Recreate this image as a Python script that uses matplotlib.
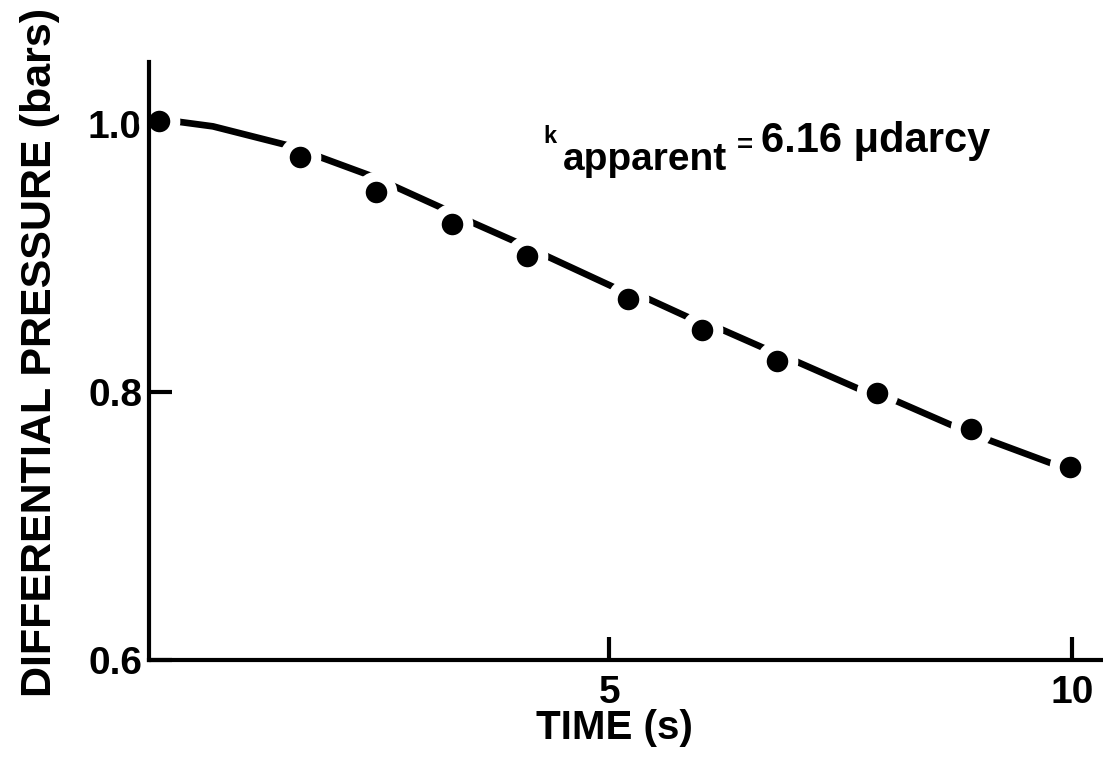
import matplotlib
matplotlib.use("Agg")
import matplotlib.pyplot as plt

# Measured differential pressure decay
time_s = [0.14, 1.66, 2.48, 3.30, 4.11, 5.20, 6.00, 6.81, 7.89, 8.90, 9.97]
pressure_bar = [1.002, 0.975, 0.949, 0.925, 0.901, 0.869, 0.846, 0.823, 0.799, 0.772, 0.744]

# Fitted model curve (k_apparent = 6.16 microdarcy)
fit_t = [0.14, 0.34, 0.72, 1.52, 1.88, 2.47, 2.64, 3.23, 3.53, 4.02, 4.30,
         5.05, 5.43, 5.84, 6.23, 6.69, 7.04, 7.70, 8.07, 8.70, 9.06, 9.80, 9.97]
fit_p = [1.002, 1.0015, 0.998, 0.984, 0.975, 0.960, 0.9545, 0.936, 0.926, 0.911, 0.902,
         0.878, 0.869, 0.856, 0.846, 0.832, 0.822, 0.802, 0.794, 0.775, 0.765, 0.746, 0.744]

x_ticks = [5, 10]
x_tick_labels = ["5", "10"]
y_ticks = [0.6, 0.8, 1.0]
y_tick_labels = ["0.6", "0.8", "1.0"]

plt.rcParams["font.family"] = ["Liberation Sans", "DejaVu Sans"]
plt.rcParams["font.weight"] = "bold"

W, H = 1103, 758
fig = plt.figure(figsize=(W / 100, H / 100), dpi=100)
fig.patch.set_facecolor("white")


def fx(x):
    return x / W


def fy(y):
    return 1 - y / H


ax = fig.add_axes([fx(149), fy(660), (W - 149) / W, (660 - 62) / H])
ax.set_xlim(0.03, 10.33)
ax.set_ylim(0.6, 1.046)

for side in ["top", "right"]:
    ax.spines[side].set_visible(False)
for side in ["left", "bottom"]:
    ax.spines[side].set_linewidth(3.0)
    ax.spines[side].set_color("black")

# Fitted curve, broken around each data point by white halos
ax.plot(fit_t, fit_p, color="black", lw=4.8, solid_capstyle="round",
        solid_joinstyle="round", zorder=2)
ax.plot(time_s, pressure_bar, ls="none", marker="o", ms=30, mfc="white",
        mec="none", zorder=2.2, clip_on=False)
ax.plot(time_s, pressure_bar, ls="none", marker="o", ms=15.5, mfc="black",
        mec="none", zorder=3, clip_on=False)

ax.set_xticks(x_ticks)
ax.set_xticklabels(x_tick_labels)
ax.set_yticks(y_ticks)
ax.set_yticklabels(y_tick_labels)
ax.tick_params(direction="in", length=16.5, width=3.0, labelsize=28, color="black")
ax.tick_params(axis="x", pad=11)
ax.tick_params(axis="y", pad=5)

# Axis titles
fig.text(fx(614), fy(728), "TIME (s)", ha="center", va="center",
         fontsize=29, fontweight="bold")
fig.text(fx(40), fy(352), "DIFFERENTIAL PRESSURE (bars)", ha="center",
         va="center", rotation=90, fontsize=31, fontweight="bold")

# Permeability annotation
fig.text(fx(543), fy(143), "k", ha="left", va="baseline", fontsize=17,
         fontweight="bold")
fig.text(fx(563), fy(170), "apparent", ha="left", va="baseline", fontsize=28,
         fontweight="bold")
fig.text(fx(737), fy(153), "=", ha="left", va="baseline", fontsize=20,
         fontweight="bold")
fig.text(fx(761), fy(152), "6.16 \u03bcdarcy", ha="left", va="baseline",
         fontsize=30, fontweight="bold")

fig.savefig("out.png", dpi=100, facecolor="white")
